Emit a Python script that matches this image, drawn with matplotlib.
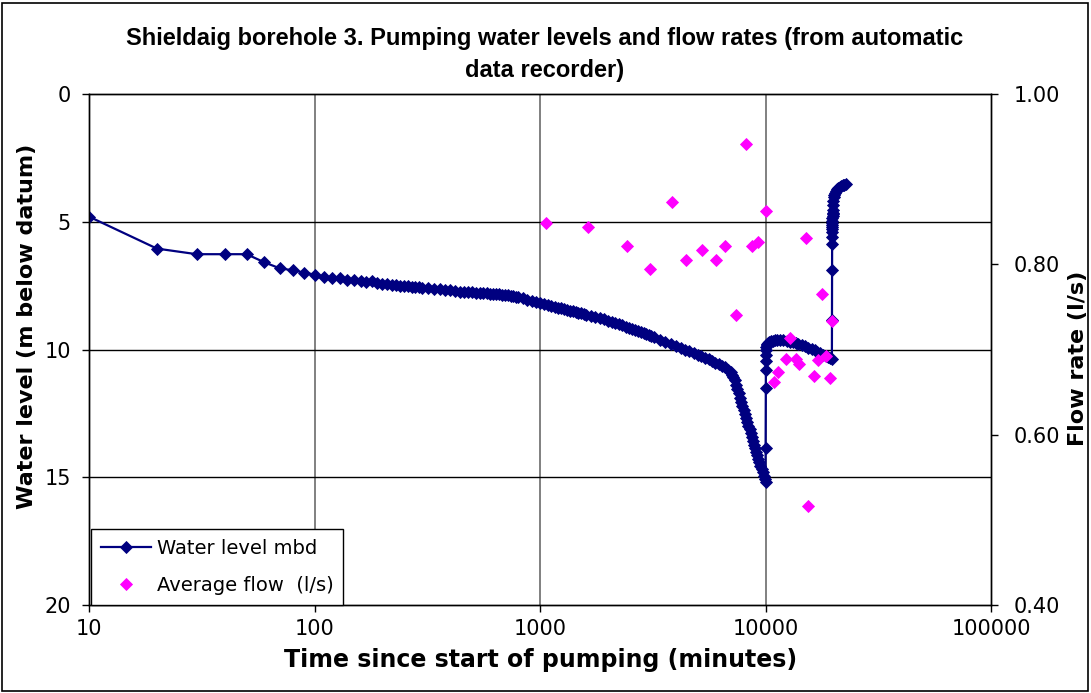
import matplotlib
matplotlib.use("Agg")
import matplotlib.pyplot as plt
import matplotlib.ticker as mticker
from matplotlib.patches import Rectangle

# ---------------- data ----------------
# Time since start of pumping (minutes) and water level (m below datum)
t_stage1 = [10, 20, 30, 40, 50, 60, 70, 80, 90, 100,
            110, 120, 130, 140, 150, 160, 170, 180, 190, 200,
            210, 220, 230, 240, 250, 260, 270, 280, 290, 300,
            320, 340, 360, 380, 400, 420, 440, 460, 480, 500,
            520, 540, 560, 580, 600, 620, 640, 660, 680, 700,
            720, 740, 760, 780, 800,
            840, 880, 920, 960, 1000, 1040, 1080, 1120, 1160, 1200,
            1240, 1280, 1320, 1360, 1400, 1440, 1480, 1520, 1560, 1600,
            1680, 1760, 1840, 1920, 2000, 2080, 2160, 2240, 2320, 2400,
            2480, 2560, 2640, 2720, 2800, 2880, 2960, 3040, 3120, 3200,
            3400, 3600, 3800, 4000, 4200, 4400, 4600, 4800, 5000, 5200,
            5400, 5600, 5800, 6000, 6200, 6400, 6600, 6800, 7000, 7100,
            7200, 7300, 7400, 7500, 7600, 7700, 7800, 7900, 8000, 8100,
            8200, 8300, 8400, 8500, 8600, 8700, 8800, 8900, 9000, 9100,
            9200, 9300, 9400, 9500, 9600, 9700, 9800, 9900, 10000]
wl_stage1 = [4.80, 6.05, 6.27, 6.27, 6.27, 6.59, 6.82, 6.90, 6.99, 7.07,
             7.15, 7.21, 7.20, 7.28, 7.28, 7.32, 7.36, 7.33, 7.40, 7.44,
             7.45, 7.47, 7.48, 7.50, 7.51, 7.52, 7.54, 7.55, 7.57, 7.58,
             7.60, 7.63, 7.65, 7.67, 7.69, 7.71, 7.73, 7.74, 7.75, 7.76,
             7.77, 7.78, 7.79, 7.80, 7.81, 7.82, 7.83, 7.84, 7.85, 7.86,
             7.88, 7.90, 7.92, 7.94, 7.96,
             8.00, 8.05, 8.10, 8.15, 8.19, 8.23, 8.26, 8.30, 8.33, 8.36,
             8.39, 8.42, 8.45, 8.48, 8.51, 8.53, 8.56, 8.59, 8.61, 8.64,
             8.68, 8.73, 8.77, 8.82, 8.87, 8.92, 8.97, 9.02, 9.06, 9.10,
             9.14, 9.18, 9.22, 9.26, 9.30, 9.35, 9.39, 9.44, 9.48, 9.52,
             9.62, 9.72, 9.80, 9.87, 9.94, 10.01, 10.07, 10.14, 10.21, 10.27,
             10.33, 10.39, 10.45, 10.51, 10.57, 10.63, 10.70, 10.79, 10.90, 11.00,
             11.08, 11.20, 11.38, 11.55, 11.72, 11.88, 12.05, 12.21, 12.37, 12.52,
             12.68, 12.83, 12.99, 13.13, 13.28, 13.43, 13.57, 13.72, 13.86, 14.00,
             14.14, 14.28, 14.41, 14.55, 14.68, 14.81, 14.94, 15.07, 15.20]

t_stage2 = [10010, 10020, 10030, 10040, 10050, 10070, 10100, 10150, 10200, 10300,
            10400, 10600, 10800, 11000, 11300, 11600, 12000, 12400, 12800, 13200,
            13600, 14000, 14500, 15000, 15500, 16000, 16500, 17000, 17500, 18000,
            18500, 19000, 19400, 19700]
wl_stage2 = [13.87, 11.52, 10.80, 10.45, 10.20, 10.02, 9.90, 9.82, 9.77, 9.73,
             9.70, 9.67, 9.65, 9.64, 9.63, 9.63, 9.64, 9.66, 9.69, 9.72,
             9.76, 9.79, 9.83, 9.88, 9.93, 9.98, 10.03, 10.08, 10.14, 10.20,
             10.25, 10.30, 10.34, 10.36]

t_recovery = [19710, 19720, 19730, 19740, 19750, 19760, 19770, 19780, 19790, 19800,
              19820, 19840, 19860, 19880, 19900, 19950, 20000, 20100, 20200, 20400,
              20600, 20800, 21000, 21300, 21600, 22000, 22400, 22800]
wl_recovery = [8.85, 6.89, 5.88, 5.58, 5.42, 5.30, 5.20, 5.11, 5.03, 4.96,
               4.86, 4.78, 4.71, 4.65, 4.55, 4.35, 4.20, 4.05, 3.97, 3.86,
               3.78, 3.72, 3.68, 3.63, 3.60, 3.57, 3.55, 3.54]

# Average flow (l/s)
flow_t = [1063, 1627, 2438, 3076, 3840, 4427, 5210, 6033, 6607, 7396,
          8196, 8750, 9300, 10040, 10910, 11330, 12290, 12800, 13610, 14120,
          15140, 15420, 16410, 17030, 17740, 18540, 19310, 19660]
flow_ls = [0.849, 0.844, 0.821, 0.795, 0.873, 0.805, 0.817, 0.805, 0.822, 0.741,
           0.941, 0.822, 0.826, 0.863, 0.662, 0.674, 0.689, 0.713, 0.689, 0.683,
           0.831, 0.516, 0.669, 0.688, 0.765, 0.692, 0.666, 0.734]

x_ticks = [10, 100, 1000, 10000, 100000]
x_tick_labels = ["10", "100", "1000", "10000", "100000"]
wl_ticks = [0, 5, 10, 15, 20]
flow_ticks = [0.40, 0.60, 0.80, 1.00]

title_text = "Shieldaig borehole 3. Pumping water levels and flow rates (from automatic\ndata recorder)"
x_label = "Time since start of pumping (minutes)"
y_label = "Water level (m below datum)"
y2_label = "Flow rate (l/s)"
series_names = ["Water level mbd", "Average flow  (l/s)"]

# ---------------- figure ----------------
W, H = 1091, 693
fig = plt.figure(figsize=(W / 100, H / 100), dpi=100)
fig.patch.set_facecolor("white")

left, right, top, bottom = 89, 991, 94, 605
ax = fig.add_axes([left / W, 1 - bottom / H, (right - left) / W, (bottom - top) / H])
ax2 = ax.twinx()

navy = "#000080"
pink = "#FF00FF"

t_all = t_stage1 + t_stage2 + t_recovery
wl_all = wl_stage1 + wl_stage2 + wl_recovery

h1, = ax.plot(t_all, wl_all, color=navy, lw=1.6, marker="D", ms=5.8,
              mfc=navy, mec=navy, mew=0.6, zorder=3)
h2, = ax2.plot(flow_t, flow_ls, ls="none", marker="D", ms=5.8,
               mfc=pink, mec=pink, mew=0.6, zorder=4)

tick_font = dict(family="DejaVu Sans", size=15)

ax.set_xscale("log")
ax.set_xlim(10, 100000)
ax.set_xticks(x_ticks)
ax.set_xticklabels(x_tick_labels, **tick_font)
ax.xaxis.set_minor_locator(mticker.NullLocator())

ax.set_ylim(20, 0)
ax.set_yticks(wl_ticks)
ax.set_yticklabels([str(v) for v in wl_ticks], **tick_font)

ax2.set_ylim(0.40, 1.00)
ax2.set_yticks(flow_ticks)
ax2.set_yticklabels([f"{v:.2f}" for v in flow_ticks], **tick_font)

ax.tick_params(axis="both", which="major", direction="out", length=5, width=1,
               color="black", labelcolor="black")
ax.tick_params(axis="x", pad=5)
ax.tick_params(axis="y", pad=8)
ax2.tick_params(axis="y", direction="out", length=5, width=1, pad=11)

ax.grid(False)
for v in [100, 1000, 10000]:
    ax.axvline(v, color="#808080", lw=1.4, zorder=1)
for v in [5, 10, 15]:
    ax.axhline(v, color="black", lw=1.0, zorder=1)

for a in (ax, ax2):
    for s in a.spines.values():
        s.set_color("black")
        s.set_linewidth(1.0)

# labels
lab_font = dict(family="DejaVu Sans", weight="bold")
fig.text(541 / W, 1 - 660 / H, x_label, ha="center", va="center", size=17, **lab_font)
fig.text(27 / W, 1 - 326 / H, y_label, ha="center", va="center", rotation=90, size=16, **lab_font)
fig.text(1078 / W, 1 - 358 / H, y2_label, ha="center", va="center", rotation=90, size=16, **lab_font)

fig.text(545 / W, 1 - 54 / H, title_text, ha="center", va="center", size=17,
         family=["Liberation Sans Narrow", "Liberation Sans"], weight="bold",
         linespacing=1.5)

leg = ax2.legend([h1, h2], series_names, loc="lower left", bbox_to_anchor=(0.002, 0.0),
                 borderaxespad=0.0, fancybox=False, framealpha=1, edgecolor="black",
                 prop=dict(family="DejaVu Sans", size=14), handlelength=2.6,
                 handletextpad=0.3, borderpad=0.5, labelspacing=0.95)
leg.get_frame().set_linewidth(1.0)

# chart-area border
fig.patches.append(Rectangle((2 / W, 2 / H), (W - 5) / W, (H - 5) / H,
                             transform=fig.transFigure, fill=False,
                             edgecolor="black", lw=1.2))

fig.savefig("out.png", dpi=100)
